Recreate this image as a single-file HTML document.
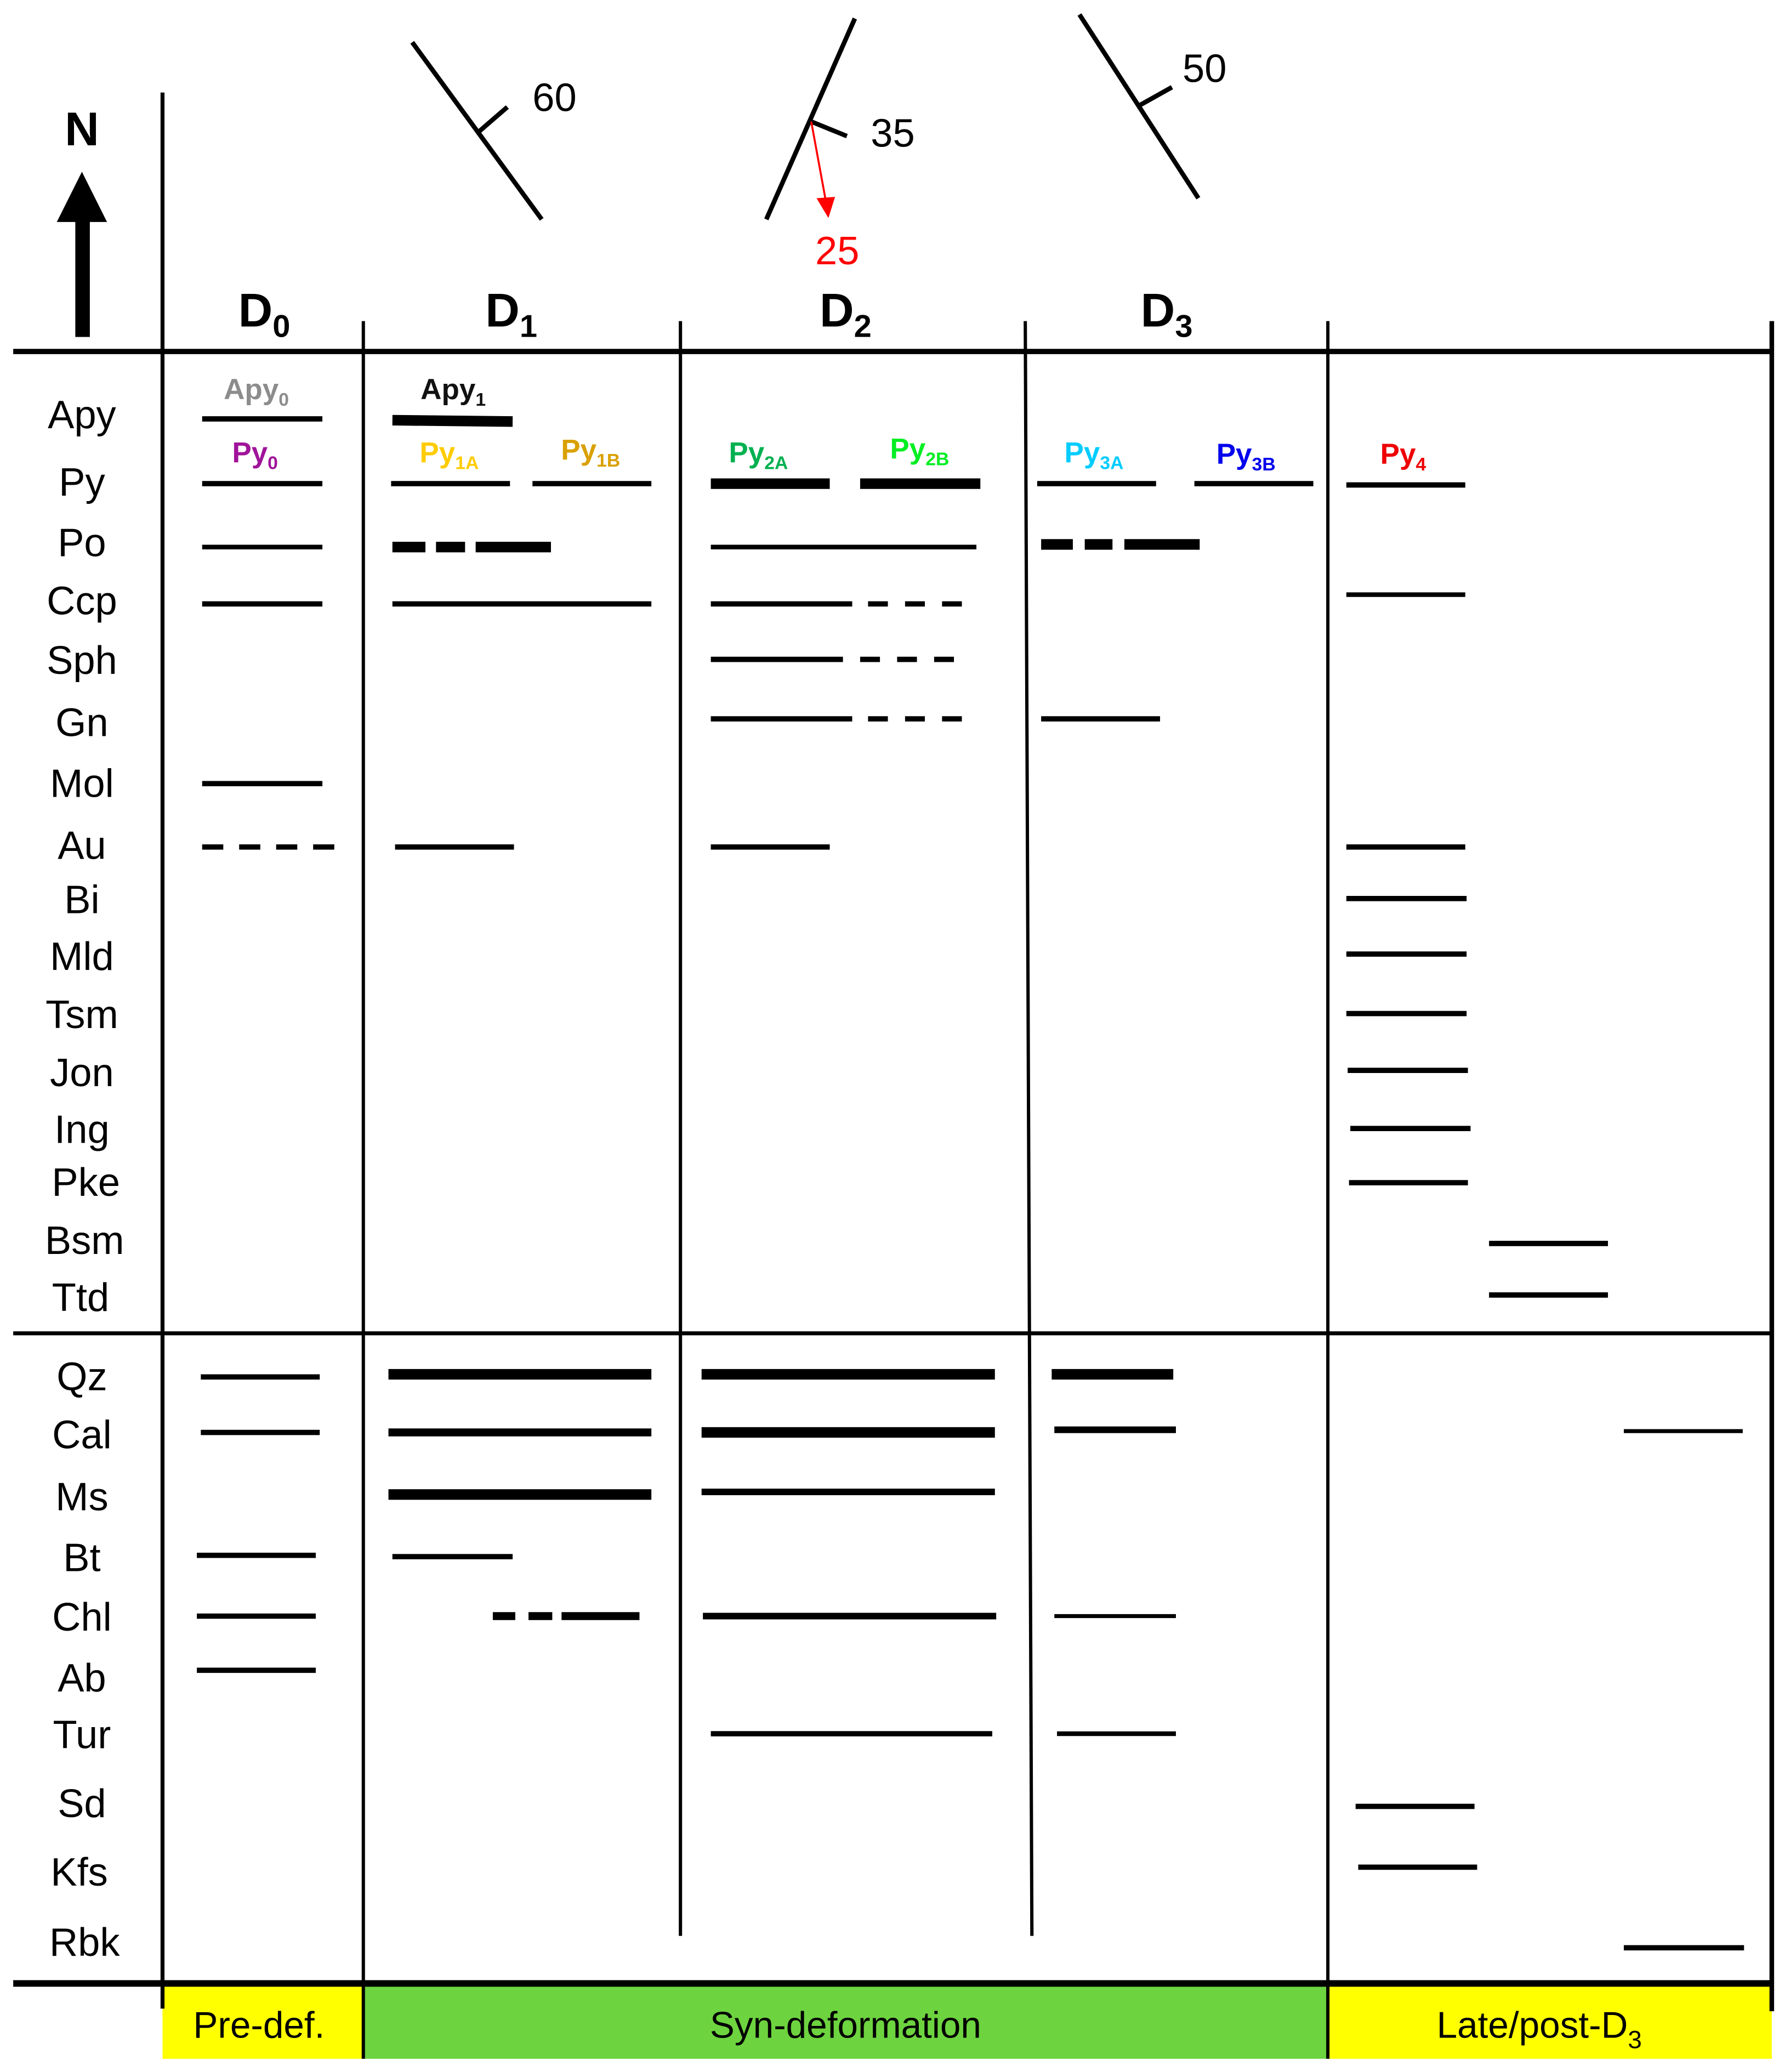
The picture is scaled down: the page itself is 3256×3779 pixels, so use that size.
<!DOCTYPE html>
<html><head><meta charset="utf-8"><style>
html,body{margin:0;padding:0;background:#fff}
svg{display:block}
text{font-family:"Liberation Sans",Arial,sans-serif}
</style></head><body>
<svg width="3256" height="3779" viewBox="0 0 1351 1568" preserveAspectRatio="none" xmlns="http://www.w3.org/2000/svg">
<rect width="1351" height="1568" fill="#fff"/>
<!-- bottom bands -->
<rect x="123" y="1502" width="152" height="56" fill="#ffff00"/>
<rect x="275" y="1502" width="730" height="56" fill="#6dd33f"/>
<rect x="1005" y="1502" width="336" height="56" fill="#ffff00"/>
<g font-size="28" text-anchor="middle" fill="#000">
<text x="196" y="1542">Pre-def.</text>
<text x="640" y="1542">Syn-deformation</text>
<text x="1165" y="1542">Late/post-D<tspan font-size="19" dy="8">3</tspan></text>
</g>
<!-- N arrow -->
<text x="62" y="110" font-size="36" font-weight="bold" text-anchor="middle">N</text>
<rect x="57" y="165" width="11" height="90" fill="#000"/>
<polygon points="62,130 43,168 81,168" fill="#000"/>
<!-- grid lines -->
<g stroke="#000" fill="none">
<line x1="123" y1="70" x2="123" y2="1520" stroke-width="3"/>
<line x1="275" y1="243" x2="275" y2="1558" stroke-width="2.5"/>
<line x1="515" y1="243" x2="515" y2="1465" stroke-width="2.5"/>
<line x1="776" y1="243" x2="781" y2="1465" stroke-width="2.5"/>
<line x1="1005" y1="243" x2="1005" y2="1558" stroke-width="2.5"/>
<line x1="1341" y1="243" x2="1341" y2="1522" stroke-width="3.5"/>
<line x1="10" y1="266" x2="1341" y2="266" stroke-width="4"/>
<line x1="10" y1="1009" x2="1341" y2="1009" stroke-width="3"/>
<line x1="10" y1="1501" x2="1341" y2="1501" stroke-width="5"/>
<!-- strike symbols -->
<line x1="312" y1="32" x2="410" y2="166" stroke-width="3.5"/>
<line x1="362" y1="100" x2="384" y2="81" stroke-width="3.5"/>
<line x1="647" y1="14" x2="580" y2="166" stroke-width="3.5"/>
<line x1="614" y1="92" x2="641" y2="103" stroke-width="3.5"/>
<line x1="817" y1="11" x2="907" y2="150" stroke-width="3.5"/>
<line x1="862" y1="80" x2="887" y2="66" stroke-width="3.5"/>
<line x1="614" y1="92" x2="625" y2="152" stroke="#f00" stroke-width="1.5"/>
</g>
<polygon points="618,150 632,149 627,165" fill="#f00"/>
<g font-size="30">
<text x="403" y="84">60</text>
<text x="659" y="111">35</text>
<text x="895" y="62">50</text>
<text x="617" y="200" fill="#f00">25</text>
</g>
<!-- headers -->
<g font-size="36" font-weight="bold" text-anchor="middle">
<text x="200" y="247">D<tspan font-size="24" dy="8">0</tspan></text>
<text x="387" y="247">D<tspan font-size="24" dy="8">1</tspan></text>
<text x="640" y="247">D<tspan font-size="24" dy="8">2</tspan></text>
<text x="883" y="247">D<tspan font-size="24" dy="8">3</tspan></text>
</g>
<!-- row labels -->
<g font-size="30" text-anchor="middle">
<text x="62" y="324">Apy</text><text x="62" y="375">Py</text><text x="62" y="421">Po</text>
<text x="62" y="465">Ccp</text><text x="62" y="510">Sph</text><text x="62" y="557">Gn</text>
<text x="62" y="603">Mol</text><text x="62" y="650">Au</text><text x="62" y="691">Bi</text>
<text x="62" y="734">Mld</text><text x="62" y="778">Tsm</text><text x="62" y="822">Jon</text>
<text x="62" y="865">Ing</text><text x="65" y="905">Pke</text><text x="64" y="949">Bsm</text>
<text x="61" y="992">Ttd</text><text x="62" y="1052">Qz</text><text x="62" y="1096">Cal</text>
<text x="62" y="1143">Ms</text><text x="62" y="1189">Bt</text><text x="62" y="1234">Chl</text>
<text x="62" y="1280">Ab</text><text x="62" y="1323">Tur</text><text x="62" y="1375">Sd</text>
<text x="60" y="1427">Kfs</text><text x="64" y="1480">Rbk</text>
</g>
<!-- mineral labels -->
<g font-size="22" font-weight="bold" text-anchor="middle">
<text x="194" y="302" fill="#8c8c8c">Apy<tspan font-size="14" dy="5">0</tspan></text>
<text x="343" y="302" fill="#111">Apy<tspan font-size="14" dy="5">1</tspan></text>
<text x="193" y="350" fill="#a0139a">Py<tspan font-size="14" dy="5">0</tspan></text>
<text x="340" y="350" fill="#ffcc00">Py<tspan font-size="14" dy="5">1A</tspan></text>
<text x="447" y="348" fill="#d9a000">Py<tspan font-size="14" dy="5">1B</tspan></text>
<text x="574" y="350" fill="#00b050">Py<tspan font-size="14" dy="5">2A</tspan></text>
<text x="696" y="347" fill="#00ee22">Py<tspan font-size="14" dy="5">2B</tspan></text>
<text x="828" y="350" fill="#00ccff">Py<tspan font-size="14" dy="5">3A</tspan></text>
<text x="943" y="351" fill="#0000ee">Py<tspan font-size="14" dy="5">3B</tspan></text>
<text x="1062" y="351" fill="#ee0000">Py<tspan font-size="14" dy="5">4</tspan></text>
</g>
<!-- bars -->
<g stroke="#000" fill="none">
<line x1="153" y1="317" x2="244" y2="317" stroke-width="4"/>
<line x1="297" y1="318" x2="388" y2="319" stroke-width="8"/>
<g stroke-width="4">
<line x1="153" y1="366" x2="244" y2="366"/><line x1="296" y1="366" x2="386" y2="366"/>
<line x1="403" y1="366" x2="493" y2="366"/><line x1="785" y1="366" x2="875" y2="366"/>
<line x1="904" y1="366" x2="994" y2="366"/><line x1="1019" y1="367" x2="1109" y2="367"/>
</g>
<line x1="538" y1="366" x2="628" y2="366" stroke-width="8"/>
<line x1="651" y1="366" x2="742" y2="366" stroke-width="8"/>
<!-- Po -->
<line x1="153" y1="414" x2="244" y2="414" stroke-width="3.5"/>
<g stroke-width="8"><line x1="297" y1="414" x2="322" y2="414"/><line x1="330" y1="414" x2="352" y2="414"/><line x1="360" y1="414" x2="417" y2="414"/>
<line x1="788" y1="412" x2="812" y2="412"/><line x1="821" y1="412" x2="842" y2="412"/><line x1="851" y1="412" x2="908" y2="412"/></g>
<line x1="538" y1="414" x2="739" y2="414" stroke-width="3.5"/>
<g stroke-width="4">
<line x1="153" y1="457" x2="244" y2="457"/><line x1="297" y1="457" x2="493" y2="457"/>
<line x1="538" y1="457" x2="645" y2="457"/><line x1="657" y1="457" x2="732" y2="457" stroke-dasharray="15,13"/>
<line x1="1019" y1="450" x2="1109" y2="450" stroke-width="3.5"/>
<line x1="538" y1="499" x2="638" y2="499"/><line x1="651" y1="499" x2="726" y2="499" stroke-dasharray="15,13"/>
<line x1="538" y1="544" x2="645" y2="544"/><line x1="657" y1="544" x2="732" y2="544" stroke-dasharray="15,13"/>
<line x1="788" y1="544" x2="878" y2="544"/>
<line x1="153" y1="593" x2="244" y2="593"/>
<line x1="153" y1="641" x2="257" y2="641" stroke-dasharray="16,12"/>
<line x1="299" y1="641" x2="389" y2="641"/><line x1="538" y1="641" x2="628" y2="641"/>
<line x1="1019" y1="641" x2="1109" y2="641"/>
<line x1="1019" y1="680" x2="1110" y2="680"/><line x1="1019" y1="722" x2="1110" y2="722"/>
<line x1="1019" y1="767" x2="1110" y2="767"/><line x1="1020" y1="810" x2="1111" y2="810"/>
<line x1="1022" y1="854" x2="1113" y2="854"/><line x1="1021" y1="895" x2="1111" y2="895"/>
<line x1="1127" y1="941" x2="1217" y2="941"/><line x1="1127" y1="980" x2="1217" y2="980"/>
<line x1="152" y1="1042" x2="242" y2="1042"/><line x1="152" y1="1084" x2="242" y2="1084"/>
<line x1="149" y1="1177" x2="239" y2="1177"/><line x1="297" y1="1178" x2="388" y2="1178"/>
<line x1="149" y1="1223" x2="239" y2="1223"/><line x1="149" y1="1264" x2="239" y2="1264"/>
<line x1="538" y1="1312" x2="751" y2="1312"/><line x1="800" y1="1312" x2="890" y2="1312" stroke-width="3.5"/>
<line x1="1026" y1="1367" x2="1116" y2="1367"/><line x1="1028" y1="1413" x2="1118" y2="1413"/>
<line x1="1229" y1="1474" x2="1320" y2="1474"/>
<line x1="798" y1="1223" x2="890" y2="1223" stroke-width="3"/>
<line x1="1229" y1="1083" x2="1319" y2="1083" stroke-width="3"/>
</g>
<g stroke-width="8">
<line x1="294" y1="1040" x2="493" y2="1040"/><line x1="531" y1="1040" x2="753" y2="1040"/>
<line x1="796" y1="1040" x2="888" y2="1040"/>
<line x1="531" y1="1084" x2="753" y2="1084"/>
<line x1="294" y1="1131" x2="493" y2="1131"/>
</g>
<line x1="294" y1="1084" x2="493" y2="1084" stroke-width="6"/>
<line x1="798" y1="1082" x2="890" y2="1082" stroke-width="5"/>
<line x1="531" y1="1129" x2="753" y2="1129" stroke-width="5"/>
<g stroke-width="6"><line x1="373" y1="1223" x2="390" y2="1223"/><line x1="400" y1="1223" x2="418" y2="1223"/><line x1="425" y1="1223" x2="484" y2="1223"/></g>
<line x1="532" y1="1223" x2="754" y2="1223" stroke-width="5"/>
</g>
</svg>
</body></html>
